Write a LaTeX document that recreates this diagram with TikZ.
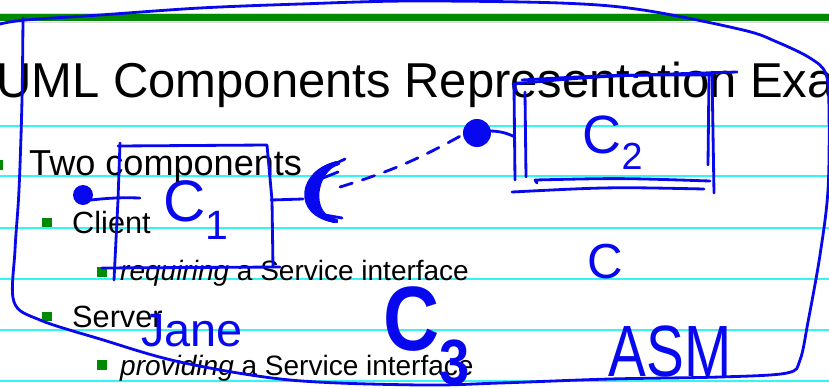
\documentclass[tikz,border=0pt]{standalone}
\usepackage{fontspec}
\setmainfont{Liberation Sans}
\usetikzlibrary{positioning,calc}
\definecolor{ink}{HTML}{0808EE}
\definecolor{slidegreen}{HTML}{008A00}
\definecolor{ruling}{HTML}{33F5F5}

\begin{document}
\begin{tikzpicture}[x=0.03cm,y=-0.03cm,
    pen/.style={draw=ink,line width=2.4pt,line cap=round,line join=round},
    fatpen/.style={draw=ink,line width=3.4pt,line cap=round,line join=round},
    hand/.style={text=ink,inner sep=0pt},
    ruleline/.style={draw=ruling,line width=1.2pt},
    item/.style={anchor=base west,inner sep=0pt},
    blt/.style={fill=slidegreen}]

  \clip (0,0) rectangle (829,389);

  % slide background
  \fill[slidegreen] (0,14) rectangle (829,21);
  \draw[black!15,line width=0.5pt] (0,13) -- (829,13) (0,22) -- (829,22);
  \foreach \y in {126,176,228,279,330,381}
    \draw[ruleline] (0,\y) -- (829,\y);

  \node[item,font=\fontsize{41.8}{46}\selectfont] (title) at (-4,97)
    {UML Components Representation Example};

  \fill[blt] (-7,160) rectangle (3,170);
  \node[item,font=\fontsize{30.8}{34}\selectfont] (two) at (29,175) {Two components};
  \fill[blt] (42,218) rectangle (52,227);
  \node[item,font=\fontsize{26.2}{30}\selectfont] (client) at (72,233) {Client};
  \fill[blt] (97,267) rectangle (107,277);
  \node[item,font=\fontsize{23.9}{27}\selectfont] (req) at (120,280)
    {\textit{requiring} a Service interface};
  \fill[blt] (42,312) rectangle (52,321);
  \node[item,font=\fontsize{26.2}{30}\selectfont] (server) at (72,327) {Server};
  \fill[blt] (97,360) rectangle (107,370);
  \node[item,font=\fontsize{23.9}{27}\selectfont] (prov) at (120,375)
    {\textit{providing} a Service interface};

  % ink over the slide
  \draw[pen] plot[smooth,tension=0.55] coordinates {(0,24) (25,20) (100,15) (200,8)
    (300,4) (410,1) (560,3) (643,10) (743,30) (777,42) (810,58) (826,74) (829,110)
    (828,190) (820,255) (808,322) (800,360) (787,373) (720,377) (610,379) (500,383)
    (420,385) (290,380) (180,362) (100,339) (40,320) (14,302) (15,250) (19,190)
    (22,100) (23,18)};

  % C1
  \draw[pen] (120,143) -- (118,200) -- (114,280);
  \draw[pen] (118,146) -- (267,145) -- (272,200) -- (273,267);
  \draw[pen] (102,268) -- (280,267);
  \node[hand,font=\fontsize{50}{54}\selectfont] (c1) at (196,210) {C\textsubscript{1}};

  \coordinate (c1w) at (140,198);
  \coordinate (c1e) at (271,200);
  \fill[ink] (83,195) circle (10);
  \coordinate (ballL) at (91,200);
  \draw[pen] (ballL) to[bend left=4] (c1w);

  \coordinate (sock) at (303,199);
  \draw[pen] (c1e) -- (sock);
  \foreach \dx in {0,3,6,9,12,15}
    \draw[fatpen] (338,163) .. controls (300+\dx,170) and (292+\dx,215) .. (336,221);
  \draw[pen] (322,170) -- (345,159);
  \draw[pen] (318,180) -- (338,172);
  \draw[pen] (325,215) -- (342,218);

  \fill[ink] (477,133) circle (14);
  \coordinate (ballR) at (464,134);
  \coordinate (sockR) at (340,187);
  \draw[pen,dash pattern=on 11pt off 9pt] (sockR) to[bend right=6] (ballR);

  % C2
  \coordinate (c2w) at (515,137);
  \draw[pen] (490,131) to[bend left=12] (c2w);
  \draw[pen] (516,90) -- (514,86) -- (515,180);
  \draw[pen] (525,92) -- (526,177);
  \draw[pen] (513,84) .. controls (600,76) .. (737,72);
  \draw[pen] (522,80) .. controls (610,75) .. (713,75);
  \draw[pen] (712,72) -- (714,193);
  \draw[pen] (709,74) -- (708,165);
  \draw[pen] (537,183) -- (535,180) .. controls (620,178) .. (710,181);
  \draw[pen] (512,192) .. controls (610,187) .. (704,189);
  \node[hand,font=\fontsize{46}{50}\selectfont] (c2) at (613,143) {C\textsubscript{2}};

  \node[hand,font=\fontsize{42}{46}\selectfont] (cfree) at (605,262) {C};
  \node[hand,font=\fontsize{40}{44}\selectfont] (jane) at (192,331) {Jane};
  \node[hand,font=\bfseries\fontsize{78}{82}\selectfont,xscale=0.85] (c3) at (427,336) {C\textsubscript{3}};
  \node[hand,font=\fontsize{62}{66}\selectfont,xscale=0.78] (asm) at (670,351) {ASM};
\end{tikzpicture}
\end{document}
